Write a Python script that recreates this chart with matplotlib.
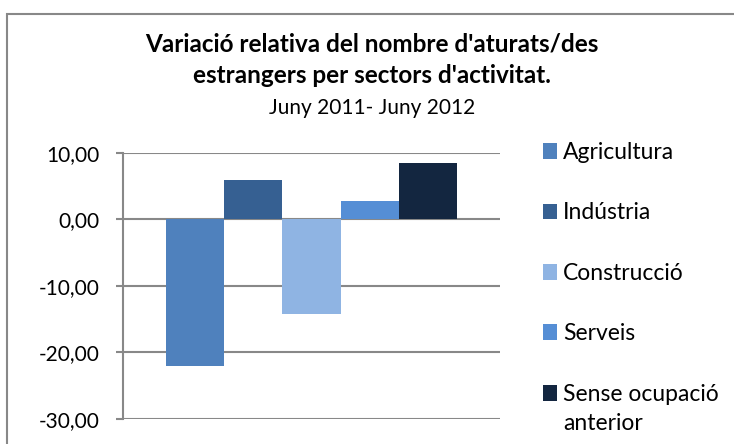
import matplotlib.pyplot as plt
from matplotlib.patches import Rectangle
from matplotlib.ticker import FuncFormatter

plt.rcParams['font.family'] = ['Lato', 'DejaVu Sans']

sectors = ['Agricultura', 'Indústria', 'Construcció', 'Serveis', 'Sense ocupació']
label_extra = 'anterior'  # second line of the last legend entry
values = [-22.1, 5.9, -14.2, 2.8, 8.5]
colors = ['#4F81BD', '#366092', '#8FB4E3', '#558ED5', '#132640']
yticks = [10, 0, -10, -20, -30]

W, H = 734, 444
fig = plt.figure(figsize=(W / 100, H / 100), dpi=100)
ax = fig.add_axes([123 / W, 1 - 418.7 / H, (500 - 123) / W, (418.7 - 153) / H])

for i, (name, v, c) in enumerate(zip(sectors, values, colors)):
    ax.bar(i, v, width=1.0, color=c, label=name, zorder=3)

ax.set_xlim(-1.24, 5.24)
ax.set_ylim(-30, 10)
ax.set_yticks(yticks)
ax.yaxis.set_major_formatter(FuncFormatter(lambda v, p: f'{v:.2f}'.replace('.', ',')))
ax.set_xticks([])
ax.grid(axis='y', color='#888888', linewidth=1.5, zorder=0)
for s in ['top', 'right', 'bottom']:
    ax.spines[s].set_visible(False)
ax.spines['left'].set_color('#888888')
ax.spines['left'].set_linewidth(1.5)
ax.tick_params(axis='y', length=5, width=1.5, color='#888888', labelsize=15, pad=12)

fs_leg = 16.5
leg = fig.legend(loc='upper left', bbox_to_anchor=(543 / W, 1 - 142 / H), frameon=False,
                 fontsize=fs_leg, handlelength=0.61, handleheight=0.68, handletextpad=0.26,
                 labelspacing=1.72, borderaxespad=0, borderpad=0)

# put the second line of the last legend label under the first one
fig.canvas.draw()
last = leg.get_texts()[-1]
bb = last.get_window_extent()
fig.text(bb.x0 / W, (bb.y0 + 4 - 29) / H, label_extra, fontsize=fs_leg,
         ha='left', va='baseline')

cx = 372 / W
fig.text(cx, 1 - 52 / H, "Variació relativa del nombre d'aturats/des",
         ha='center', va='baseline', fontsize=17.5, fontweight='bold')
fig.text(cx, 1 - 83 / H, "estrangers per sectors d'activitat.",
         ha='center', va='baseline', fontsize=17.5, fontweight='bold')
fig.text(cx, 1 - 114 / H, "Juny 2011- Juny 2012",
         ha='center', va='baseline', fontsize=15)

fig.patches.append(Rectangle((7 / W, -0.1), 1.2, (H - 14) / H + 0.1,
                             transform=fig.transFigure, fill=False,
                             edgecolor='#888888', linewidth=1.5))

fig.savefig('out.png', dpi=100)
